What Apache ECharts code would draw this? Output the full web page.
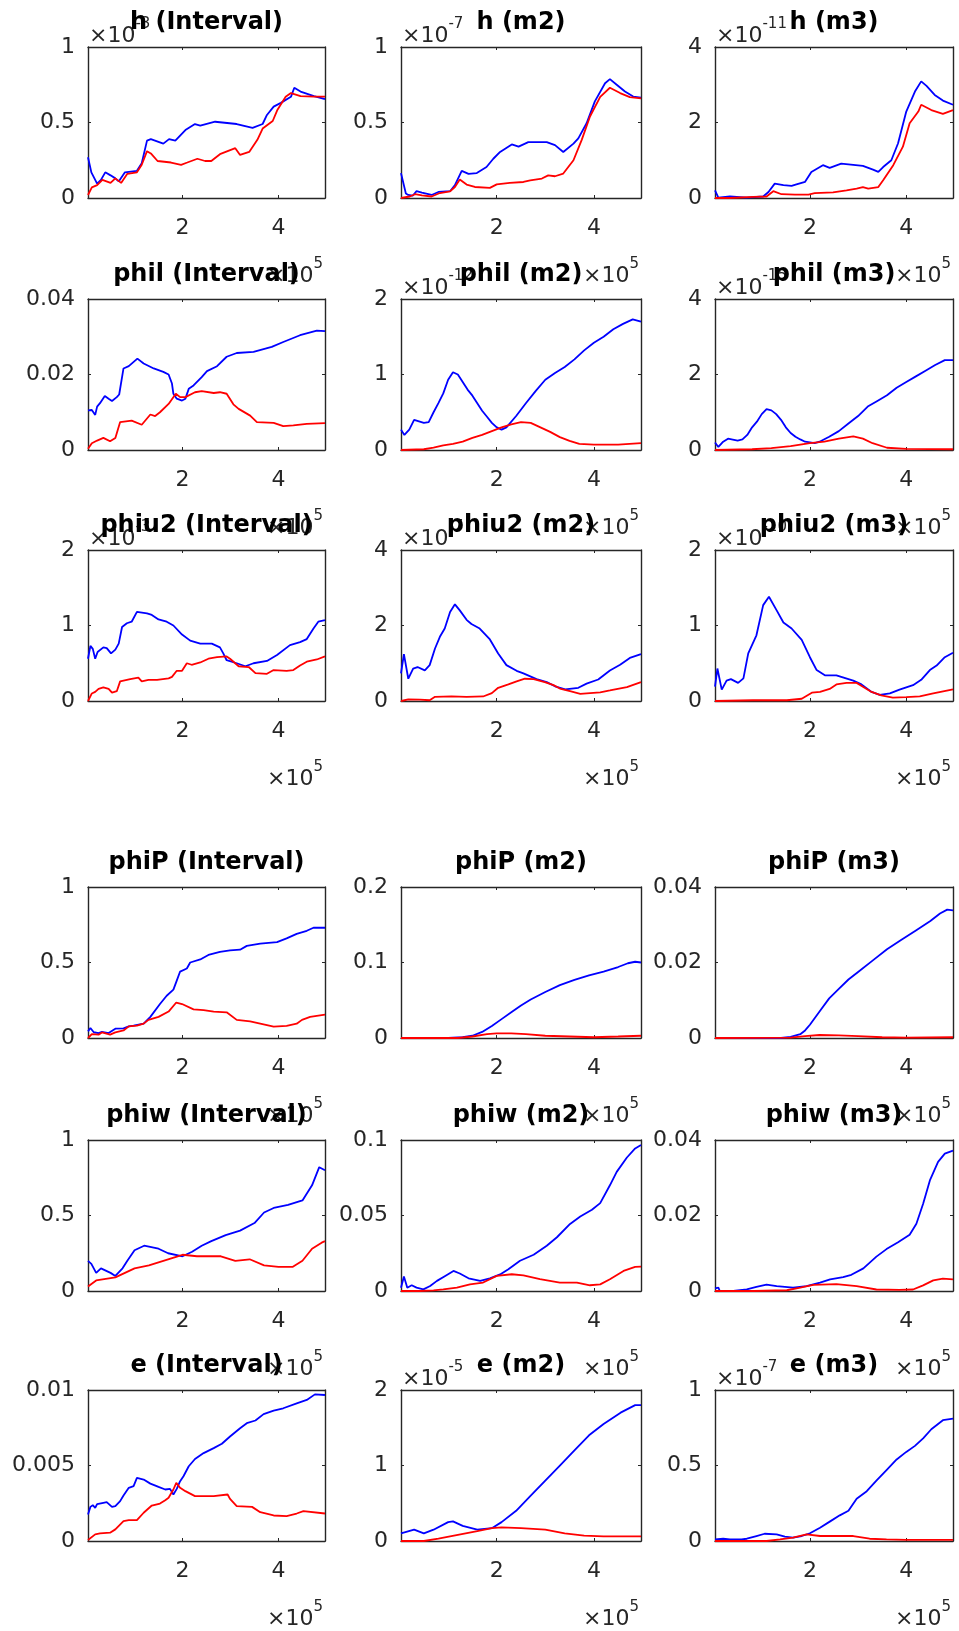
<!DOCTYPE html>
<html>
<head>
<meta charset="utf-8">
<script src="https://cdn.jsdelivr.net/npm/echarts@6/dist/echarts.min.js"></script>
<style>
  html, body { margin: 0; padding: 0; background: #ffffff; }
  #chart { width: 959px; height: 1631px; }
</style>
</head>
<body>
<div id="chart"></div>
<script>
// x positions are in units of 1e5 (shown with a "×10^5" multiplier),
// y values in units of each panel's multiplier.

const hIntervalBlue = [[0.03,0.27],[0.1,0.17],[0.22,0.095],[0.3,0.12],[0.39,0.17],[0.5,0.15],[0.6,0.13],[0.67,0.11],[0.8,0.17],[1.05,0.18],[1.15,0.23],[1.26,0.38],[1.34,0.39],[1.6,0.36],[1.72,0.39],[1.85,0.38],[2.06,0.45],[2.26,0.49],[2.37,0.48],[2.68,0.505],[3.13,0.49],[3.46,0.465],[3.67,0.49],[3.76,0.55],[3.9,0.605],[4.05,0.63],[4.26,0.67],[4.33,0.73],[4.46,0.705],[4.74,0.675],[4.97,0.655]];
const hIntervalRed = [[0.03,0.02],[0.11,0.07],[0.22,0.085],[0.33,0.12],[0.5,0.1],[0.6,0.13],[0.72,0.1],[0.85,0.16],[1.05,0.17],[1.15,0.22],[1.26,0.31],[1.34,0.295],[1.48,0.245],[1.76,0.235],[1.97,0.22],[2.1,0.235],[2.31,0.26],[2.47,0.245],[2.6,0.245],[2.78,0.29],[3.1,0.33],[3.2,0.285],[3.39,0.305],[3.56,0.385],[3.67,0.46],[3.88,0.51],[3.98,0.585],[4.15,0.67],[4.26,0.695],[4.46,0.675],[4.74,0.672],[4.97,0.672]];

const hM2Blue = [[0.03,0.165],[0.13,0.03],[0.18,0.02],[0.27,0.015],[0.35,0.045],[0.46,0.035],[0.66,0.02],[0.8,0.04],[1.04,0.045],[1.14,0.085],[1.28,0.18],[1.42,0.16],[1.59,0.165],[1.79,0.205],[1.93,0.26],[2.07,0.305],[2.31,0.355],[2.45,0.34],[2.65,0.37],[3.03,0.37],[3.2,0.35],[3.37,0.305],[3.58,0.36],[3.68,0.395],[3.85,0.495],[4.02,0.64],[4.23,0.76],[4.33,0.787],[4.47,0.75],[4.64,0.705],[4.81,0.672],[4.97,0.665]];
const hM2Red = [[0.03,0],[0.21,0.01],[0.32,0.025],[0.46,0.018],[0.66,0.01],[0.83,0.033],[1.04,0.044],[1.14,0.073],[1.24,0.122],[1.38,0.089],[1.55,0.073],[1.86,0.067],[2.0,0.09],[2.27,0.1],[2.55,0.106],[2.69,0.117],[2.93,0.129],[3.06,0.15],[3.2,0.144],[3.37,0.162],[3.58,0.25],[3.75,0.385],[3.92,0.54],[4.13,0.67],[4.33,0.73],[4.54,0.695],[4.74,0.668],[4.97,0.66]];

const hM3Blue = [[0.03,0.2],[0.1,0.01],[0.34,0.04],[0.69,0.01],[1.03,0.04],[1.14,0.16],[1.27,0.38],[1.45,0.34],[1.62,0.32],[1.72,0.36],[1.9,0.43],[2.03,0.69],[2.27,0.87],[2.41,0.8],[2.65,0.91],[3.1,0.85],[3.31,0.75],[3.42,0.69],[3.52,0.82],[3.69,1.0],[3.83,1.45],[4.0,2.29],[4.18,2.82],[4.31,3.09],[4.42,2.97],[4.59,2.73],[4.76,2.58],[4.97,2.47]];
const hM3Red = [[0.03,0],[0.34,0],[0.83,0.03],[1.1,0.04],[1.24,0.18],[1.41,0.1],[1.69,0.09],[1.97,0.09],[2.1,0.13],[2.48,0.15],[2.76,0.2],[2.97,0.25],[3.1,0.29],[3.21,0.25],[3.42,0.29],[3.52,0.47],[3.73,0.87],[3.93,1.36],[4.07,1.98],[4.25,2.29],[4.31,2.47],[4.52,2.33],[4.76,2.23],[4.97,2.33]];

const philIntervalBlue = [[0.03,0.0105],[0.11,0.0106],[0.18,0.0093],[0.22,0.0115],[0.28,0.0124],[0.38,0.0143],[0.46,0.0136],[0.53,0.013],[0.63,0.014],[0.68,0.0147],[0.77,0.0216],[0.88,0.0222],[1.06,0.0242],[1.19,0.0229],[1.4,0.0216],[1.6,0.0207],[1.71,0.02],[1.78,0.0176],[1.81,0.0149],[1.88,0.0136],[1.99,0.0131],[2.06,0.0136],[2.13,0.0162],[2.23,0.0171],[2.4,0.0193],[2.51,0.0209],[2.72,0.0222],[2.92,0.0247],[3.13,0.0257],[3.48,0.026],[3.86,0.0273],[4.1,0.0286],[4.45,0.0304],[4.8,0.0316],[4.97,0.0315]];
const philIntervalRed = [[0.03,0.0003],[0.11,0.0018],[0.22,0.0025],[0.35,0.0032],[0.49,0.0023],[0.6,0.0032],[0.7,0.0074],[0.94,0.0078],[1.15,0.0067],[1.33,0.0094],[1.43,0.009],[1.53,0.01],[1.71,0.0122],[1.86,0.0149],[1.95,0.014],[2.06,0.014],[2.26,0.0153],[2.4,0.0156],[2.65,0.0151],[2.78,0.0153],[2.92,0.0149],[3.06,0.0121],[3.17,0.0109],[3.41,0.0091],[3.55,0.0074],[3.9,0.0072],[4.1,0.0063],[4.31,0.0065],[4.59,0.0069],[4.97,0.0071]];

const philM2Blue = [[0.03,0.27],[0.1,0.2],[0.2,0.27],[0.3,0.4],[0.4,0.38],[0.5,0.36],[0.6,0.37],[0.7,0.5],[0.8,0.62],[0.9,0.75],[1.0,0.93],[1.1,1.03],[1.2,1.0],[1.3,0.9],[1.4,0.8],[1.5,0.72],[1.6,0.62],[1.7,0.52],[1.8,0.44],[1.9,0.36],[2.0,0.3],[2.1,0.27],[2.2,0.3],[2.4,0.45],[2.6,0.62],[2.8,0.78],[3.0,0.93],[3.2,1.02],[3.4,1.1],[3.6,1.2],[3.8,1.32],[4.0,1.42],[4.2,1.5],[4.4,1.6],[4.6,1.67],[4.8,1.73],[4.97,1.7]];
const philM2Red = [[0.03,0],[0.5,0.01],[0.7,0.03],[0.9,0.06],[1.1,0.08],[1.3,0.11],[1.5,0.16],[1.7,0.2],[1.9,0.25],[2.1,0.3],[2.3,0.34],[2.5,0.37],[2.7,0.36],[2.9,0.3],[3.1,0.24],[3.3,0.17],[3.5,0.12],[3.7,0.08],[4.0,0.07],[4.5,0.07],[4.97,0.09]];

const philM3Blue = [[0.03,0.2],[0.1,0.08],[0.2,0.22],[0.3,0.3],[0.5,0.25],[0.6,0.28],[0.7,0.4],[0.8,0.6],[0.9,0.75],[1.0,0.95],[1.1,1.08],[1.2,1.05],[1.3,0.95],[1.4,0.8],[1.5,0.6],[1.6,0.45],[1.7,0.35],[1.8,0.28],[1.9,0.22],[2.0,0.2],[2.1,0.18],[2.2,0.22],[2.4,0.35],[2.6,0.5],[2.8,0.7],[3.0,0.9],[3.2,1.15],[3.4,1.3],[3.6,1.45],[3.8,1.65],[4.0,1.8],[4.2,1.95],[4.4,2.1],[4.6,2.25],[4.8,2.38],[4.97,2.38]];
const philM3Red = [[0.03,0],[0.8,0.02],[1.2,0.05],[1.6,0.1],[2.0,0.18],[2.3,0.22],[2.6,0.3],[2.9,0.36],[3.1,0.3],[3.3,0.18],[3.6,0.06],[4.0,0.03],[4.97,0.02]];

const phiu2IntervalBlue = [[0.03,0.56],[0.08,0.73],[0.13,0.69],[0.18,0.56],[0.23,0.65],[0.35,0.71],[0.42,0.7],[0.51,0.63],[0.6,0.68],[0.67,0.76],[0.74,0.98],[0.84,1.03],[0.94,1.05],[1.05,1.18],[1.26,1.16],[1.36,1.14],[1.5,1.08],[1.67,1.05],[1.81,1.0],[1.99,0.88],[2.16,0.8],[2.37,0.76],[2.61,0.76],[2.78,0.71],[2.85,0.63],[2.92,0.54],[3.13,0.5],[3.31,0.46],[3.48,0.5],[3.76,0.53],[3.97,0.61],[4.24,0.74],[4.45,0.78],[4.59,0.82],[4.73,0.96],[4.83,1.05],[4.97,1.07]];
const phiu2IntervalRed = [[0.03,0],[0.11,0.1],[0.18,0.12],[0.25,0.16],[0.35,0.18],[0.46,0.16],[0.53,0.11],[0.63,0.13],[0.7,0.26],[0.91,0.29],[1.08,0.31],[1.15,0.26],[1.29,0.28],[1.47,0.28],[1.71,0.3],[1.78,0.32],[1.88,0.4],[1.99,0.4],[2.09,0.5],[2.19,0.48],[2.37,0.51],[2.54,0.56],[2.72,0.58],[2.92,0.59],[2.99,0.56],[3.17,0.46],[3.38,0.45],[3.52,0.37],[3.76,0.36],[3.9,0.41],[4.17,0.4],[4.31,0.41],[4.45,0.47],[4.59,0.52],[4.8,0.55],[4.97,0.59]];

const phiu2M2Blue = [[0.03,0.73],[0.09,1.24],[0.18,0.59],[0.28,0.86],[0.37,0.9],[0.52,0.81],[0.62,0.95],[0.73,1.39],[0.83,1.7],[0.93,1.92],[1.04,2.36],[1.14,2.56],[1.24,2.4],[1.38,2.15],[1.48,2.04],[1.65,1.92],[1.86,1.63],[2.03,1.26],[2.2,0.95],[2.41,0.8],[2.55,0.73],[2.82,0.58],[3.03,0.5],[3.2,0.39],[3.41,0.31],[3.68,0.35],[3.85,0.46],[4.09,0.57],[4.33,0.81],[4.54,0.96],[4.74,1.14],[4.97,1.24]];
const phiu2M2Red = [[0.03,0],[0.18,0.04],[0.42,0.035],[0.62,0.02],[0.73,0.11],[1.07,0.12],[1.38,0.11],[1.72,0.12],[1.9,0.21],[2.03,0.35],[2.24,0.44],[2.41,0.52],[2.58,0.59],[2.76,0.58],[2.99,0.5],[3.17,0.42],[3.3,0.33],[3.51,0.26],[3.72,0.19],[3.92,0.21],[4.13,0.23],[4.33,0.28],[4.68,0.37],[4.97,0.5]];

const phiu2M3Blue = [[0.03,0.19],[0.08,0.43],[0.17,0.15],[0.27,0.27],[0.36,0.29],[0.51,0.24],[0.62,0.3],[0.72,0.63],[0.89,0.87],[1.03,1.27],[1.15,1.38],[1.31,1.2],[1.45,1.04],[1.62,0.96],[1.83,0.81],[2.0,0.58],[2.14,0.41],[2.31,0.34],[2.55,0.34],[2.9,0.27],[3.07,0.22],[3.28,0.12],[3.45,0.08],[3.66,0.1],[3.86,0.15],[4.14,0.21],[4.31,0.28],[4.49,0.41],[4.63,0.47],[4.8,0.58],[4.97,0.64]];
const phiu2M3Red = [[0.03,0],[0.82,0.01],[1.52,0.01],[1.83,0.03],[2.04,0.11],[2.21,0.12],[2.41,0.16],[2.55,0.22],[2.76,0.24],[2.97,0.24],[3.1,0.19],[3.28,0.12],[3.48,0.075],[3.72,0.045],[4.0,0.05],[4.28,0.06],[4.56,0.1],[4.97,0.155]];

const phiPIntervalBlue = [[0.03,0.044],[0.08,0.066],[0.15,0.038],[0.25,0.033],[0.32,0.04],[0.46,0.033],[0.6,0.062],[0.77,0.064],[0.88,0.077],[0.98,0.082],[1.19,0.095],[1.33,0.14],[1.53,0.225],[1.67,0.28],[1.81,0.32],[1.88,0.38],[1.95,0.44],[2.09,0.46],[2.16,0.5],[2.37,0.52],[2.54,0.55],[2.78,0.57],[2.99,0.58],[3.2,0.585],[3.34,0.61],[3.62,0.625],[3.97,0.635],[4.17,0.66],[4.38,0.69],[4.59,0.71],[4.73,0.73],[4.97,0.73]];
const phiPIntervalRed = [[0.03,0],[0.11,0.026],[0.25,0.022],[0.32,0.037],[0.49,0.022],[0.6,0.037],[0.77,0.05],[0.88,0.077],[1.05,0.082],[1.19,0.095],[1.29,0.12],[1.5,0.14],[1.71,0.175],[1.87,0.235],[1.99,0.225],[2.23,0.19],[2.44,0.185],[2.65,0.175],[2.92,0.17],[3.13,0.12],[3.41,0.11],[3.69,0.09],[3.9,0.075],[4.17,0.08],[4.38,0.095],[4.49,0.12],[4.66,0.14],[4.97,0.155]];

const phiPM2Blue = [[0.03,0],[1.0,0],[1.3,0.001],[1.5,0.003],[1.7,0.008],[1.9,0.016],[2.1,0.025],[2.3,0.034],[2.5,0.043],[2.7,0.051],[3.0,0.061],[3.3,0.07],[3.6,0.077],[3.9,0.083],[4.2,0.088],[4.5,0.094],[4.7,0.099],[4.85,0.101],[4.97,0.1]];
const phiPM2Red = [[0.03,0],[1.2,0],[1.5,0.002],[1.8,0.005],[2.0,0.006],[2.3,0.006],[2.6,0.005],[3.0,0.003],[3.5,0.002],[4.0,0.001],[4.5,0.002],[4.97,0.003]];

const phiPM3Blue = [[0.03,0],[1.4,0],[1.6,0.0003],[1.8,0.001],[1.9,0.002],[2.0,0.0035],[2.2,0.007],[2.4,0.0105],[2.6,0.013],[2.8,0.0155],[3.0,0.0175],[3.3,0.0205],[3.6,0.0235],[3.9,0.026],[4.2,0.0285],[4.5,0.031],[4.7,0.033],[4.85,0.034],[4.97,0.0338]];
const phiPM3Red = [[0.03,0],[1.6,0.0001],[1.9,0.0005],[2.2,0.0008],[2.6,0.0007],[3.0,0.0005],[3.5,0.0002],[4.0,0.0001],[4.97,0.0002]];

const phiwIntervalBlue = [[0.03,0.2],[0.1,0.18],[0.2,0.12],[0.3,0.15],[0.5,0.12],[0.6,0.1],[0.75,0.15],[0.85,0.2],[1.0,0.27],[1.2,0.3],[1.5,0.28],[1.7,0.25],[2.0,0.23],[2.2,0.26],[2.4,0.3],[2.6,0.33],[2.9,0.37],[3.2,0.4],[3.5,0.45],[3.7,0.52],[3.9,0.55],[4.2,0.57],[4.5,0.6],[4.7,0.7],[4.85,0.82],[4.97,0.8]];
const phiwIntervalRed = [[0.03,0.03],[0.2,0.07],[0.4,0.08],[0.6,0.09],[0.8,0.12],[1.0,0.15],[1.3,0.17],[1.6,0.2],[1.9,0.23],[2.0,0.24],[2.3,0.23],[2.8,0.23],[3.1,0.2],[3.4,0.21],[3.7,0.17],[4.0,0.16],[4.3,0.16],[4.5,0.2],[4.7,0.28],[4.9,0.32],[4.97,0.33]];

const phiwM2Blue = [[0.03,0.0022],[0.09,0.0096],[0.16,0.0022],[0.25,0.0038],[0.35,0.0022],[0.49,0.0011],[0.63,0.0033],[0.77,0.0067],[0.94,0.01],[1.11,0.0133],[1.24,0.0116],[1.42,0.0084],[1.66,0.0067],[1.86,0.0084],[2.07,0.011],[2.24,0.0144],[2.48,0.02],[2.76,0.024],[3.03,0.03],[3.24,0.0356],[3.51,0.0444],[3.72,0.0493],[3.96,0.0538],[4.13,0.0582],[4.33,0.07],[4.47,0.0789],[4.68,0.0884],[4.85,0.0944],[4.97,0.0967]];
const phiwM2Red = [[0.03,0],[0.42,0],[0.7,0.0004],[0.9,0.0011],[1.18,0.0022],[1.45,0.0044],[1.72,0.0056],[2.0,0.01],[2.31,0.0111],[2.55,0.0104],[2.89,0.0078],[3.3,0.0056],[3.65,0.0056],[3.92,0.0038],[4.13,0.0044],[4.33,0.0078],[4.61,0.0133],[4.85,0.016],[4.97,0.0162]];

const phiwM3Blue = [[0.03,0.0007],[0.1,0.0009],[0.13,0],[0.41,0],[0.69,0.0004],[0.89,0.0011],[1.1,0.0017],[1.31,0.0013],[1.65,0.0009],[1.93,0.0013],[2.21,0.0022],[2.42,0.0031],[2.69,0.0037],[2.86,0.0043],[3.11,0.006],[3.38,0.0091],[3.59,0.0111],[3.83,0.0129],[4.07,0.0149],[4.21,0.0178],[4.35,0.0231],[4.49,0.0293],[4.66,0.0342],[4.8,0.0364],[4.97,0.0372]];
const phiwM3Red = [[0.03,0],[0.83,0],[1.52,0.0002],[1.8,0.0009],[2.07,0.0016],[2.55,0.0018],[2.97,0.0013],[3.38,0.0004],[3.86,0.0003],[4.14,0.0004],[4.35,0.0015],[4.56,0.0028],[4.76,0.0033],[4.97,0.0031]];

const eIntervalBlue = [[0.03,0.00176],[0.08,0.00226],[0.13,0.00237],[0.18,0.0022],[0.22,0.00244],[0.35,0.00253],[0.42,0.00257],[0.53,0.00226],[0.6,0.00231],[0.7,0.00264],[0.77,0.00301],[0.88,0.00352],[0.98,0.00363],[1.05,0.00418],[1.19,0.00407],[1.33,0.0038],[1.5,0.00358],[1.64,0.00341],[1.74,0.00345],[1.81,0.00308],[1.88,0.00345],[1.95,0.00396],[2.02,0.00429],[2.13,0.00495],[2.26,0.00543],[2.44,0.00582],[2.65,0.00615],[2.82,0.00644],[2.99,0.00692],[3.2,0.00747],[3.34,0.0078],[3.52,0.00798],[3.69,0.0084],[3.9,0.00864],[4.1,0.00879],[4.38,0.00912],[4.59,0.00934],[4.76,0.00971],[4.97,0.00967]];
const eIntervalRed = [[0.03,0.00007],[0.18,0.00044],[0.28,0.0005],[0.49,0.00055],[0.6,0.00077],[0.77,0.00132],[0.88,0.00138],[1.05,0.00138],[1.19,0.00187],[1.36,0.00235],[1.53,0.00248],[1.64,0.0027],[1.71,0.00286],[1.81,0.00341],[1.87,0.00385],[1.95,0.00352],[2.06,0.0033],[2.26,0.00297],[2.65,0.00297],[2.94,0.00308],[2.99,0.00279],[3.13,0.00231],[3.45,0.00226],[3.62,0.00191],[3.9,0.00169],[4.17,0.00165],[4.38,0.00182],[4.52,0.00198],[4.97,0.00182]];

const eM2Blue = [[0.03,0.1],[0.3,0.15],[0.5,0.1],[0.7,0.15],[1.0,0.25],[1.1,0.26],[1.3,0.2],[1.6,0.15],[1.9,0.17],[2.1,0.25],[2.4,0.4],[2.7,0.6],[3.0,0.8],[3.3,1.0],[3.6,1.2],[3.9,1.4],[4.2,1.55],[4.55,1.7],[4.85,1.8],[4.97,1.8]];
const eM2Red = [[0.03,0],[0.5,0],[0.8,0.03],[1.2,0.08],[1.6,0.13],[1.9,0.17],[2.1,0.18],[2.5,0.17],[3.0,0.15],[3.4,0.1],[3.8,0.07],[4.2,0.06],[4.97,0.06]];

const eM3Blue = [[0.03,0.011],[0.2,0.015],[0.34,0.011],[0.58,0.011],[0.69,0.015],[0.89,0.033],[1.06,0.048],[1.31,0.044],[1.48,0.029],[1.65,0.022],[1.83,0.033],[2.0,0.051],[2.21,0.088],[2.42,0.13],[2.62,0.17],[2.8,0.2],[2.97,0.28],[3.18,0.33],[3.38,0.4],[3.59,0.47],[3.8,0.54],[4.0,0.59],[4.18,0.63],[4.35,0.68],[4.52,0.74],[4.76,0.8],[4.97,0.81]];
const eM3Red = [[0.03,0],[1.1,0],[1.38,0.011],[1.65,0.022],[1.93,0.044],[2.21,0.033],[2.62,0.033],[2.9,0.033],[3.24,0.015],[3.59,0.011],[4.0,0.007],[4.97,0.007]];

// Panel descriptions, row by row
const panelTitles = [
  'h (Interval)', 'h (m2)', 'h (m3)',
  'phil (Interval)', 'phil (m2)', 'phil (m3)',
  'phiu2 (Interval)', 'phiu2 (m2)', 'phiu2 (m3)',
  'phiP (Interval)', 'phiP (m2)', 'phiP (m3)',
  'phiw (Interval)', 'phiw (m2)', 'phiw (m3)',
  'e (Interval)', 'e (m2)', 'e (m3)'
];
const panelYMax = [1, 1, 4, 0.04, 2, 4, 2, 4, 2, 1, 0.2, 0.04, 1, 0.1, 0.04, 0.01, 2, 1];
const panelYExponent = ['-3', '-7', '-11', '', '-12', '-15', '-3', '-7', '-10', '', '', '', '', '', '', '', '-5', '-7'];
const panelBlue = [hIntervalBlue, hM2Blue, hM3Blue, philIntervalBlue, philM2Blue, philM3Blue,
  phiu2IntervalBlue, phiu2M2Blue, phiu2M3Blue, phiPIntervalBlue, phiPM2Blue, phiPM3Blue,
  phiwIntervalBlue, phiwM2Blue, phiwM3Blue, eIntervalBlue, eM2Blue, eM3Blue];
const panelRed = [hIntervalRed, hM2Red, hM3Red, philIntervalRed, philM2Red, philM3Red,
  phiu2IntervalRed, phiu2M2Red, phiu2M3Red, phiPIntervalRed, phiPM2Red, phiPM3Red,
  phiwIntervalRed, phiwM2Red, phiwM3Red, eIntervalRed, eM2Red, eM3Red];
const xTickValues = [2, 4];
const xExponent = '5';
const xRange = [0.03, 4.97];

// Layout of the 6 x 3 grid of axes (pixels)
const colLeft = [88, 401, 715];
const colWidth = [237, 240, 238];
const rowTop = [47, 299, 550, 887, 1140, 1390];
const plotHeight = 151;

const AX = '#262626';
const FONT = 'DejaVu Sans';
const fmt = v => String(parseFloat(Number(v).toPrecision(6)));

const grids = [], xAxes = [], yAxes = [], series = [], graphics = [];

panelTitles.forEach((title, i) => {
  const r = Math.floor(i / 3), c = i % 3;
  const left = colLeft[c], top = rowTop[r], w = colWidth[c], h = plotHeight;
  const ymax = panelYMax[i];
  grids.push({ left, top, width: w, height: h, containLabel: false });

  const line = { show: true, onZero: false, lineStyle: { color: AX, width: 1.4 } };
  const xTick = { show: true, inside: true, length: 3, customValues: xTickValues, lineStyle: { color: AX, width: 1 } };
  const yTick = { show: true, inside: true, length: 3, lineStyle: { color: AX, width: 1 } };

  xAxes.push({
    gridIndex: i, type: 'value', position: 'bottom', min: xRange[0], max: xRange[1],
    axisLine: line, axisTick: xTick, splitLine: { show: false },
    axisLabel: { show: true, customValues: xTickValues, formatter: fmt, color: AX, fontFamily: FONT,
      fontSize: 22, margin: 30, verticalAlign: 'middle' }
  });
  xAxes.push({
    gridIndex: i, type: 'value', position: 'top', min: xRange[0], max: xRange[1],
    axisLine: line, axisTick: xTick, splitLine: { show: false }, axisLabel: { show: false }
  });
  yAxes.push({
    gridIndex: i, type: 'value', position: 'left', min: 0, max: ymax, interval: ymax / 2,
    axisLine: line, axisTick: yTick, splitLine: { show: false },
    axisLabel: { show: true, formatter: fmt, color: AX, fontFamily: FONT, fontSize: 22, margin: 13 }
  });
  yAxes.push({
    gridIndex: i, type: 'value', position: 'right', min: 0, max: ymax, interval: ymax / 2,
    axisLine: line, axisTick: yTick, splitLine: { show: false }, axisLabel: { show: false }
  });

  series.push({
    type: 'line', name: title + ' blue', xAxisIndex: 2 * i, yAxisIndex: 2 * i,
    data: panelBlue[i], showSymbol: false, symbol: 'none', z: 3,
    lineStyle: { color: '#0000ff', width: 1.8 }, itemStyle: { color: '#0000ff' }
  });
  series.push({
    type: 'line', name: title + ' red', xAxisIndex: 2 * i, yAxisIndex: 2 * i,
    data: panelRed[i], showSymbol: false, symbol: 'none', z: 4,
    lineStyle: { color: '#ff0000', width: 1.8 }, itemStyle: { color: '#ff0000' }
  });

  // y multiplier above the top-left corner
  if (panelYExponent[i]) {
    graphics.push({
      type: 'text', left: left + 1, top: top - 30, z: 10,
      style: {
        text: '{b|×10}{s|' + panelYExponent[i] + '}',
        rich: {
          b: { fontFamily: FONT, fontSize: 22, fill: AX, lineHeight: 30, verticalAlign: 'bottom' },
          s: { fontFamily: FONT, fontSize: 15, fill: AX, lineHeight: 14, verticalAlign: 'top' }
        }
      }
    });
  }
  // x multiplier below the bottom-right corner
  graphics.push({
    type: 'text', right: 959 - (left + w) + 2, top: top + h + 59, z: 10,
    style: {
      text: '{b|×10}{s|' + xExponent + '}',
      rich: {
        b: { fontFamily: FONT, fontSize: 22, fill: AX, lineHeight: 30, verticalAlign: 'bottom' },
        s: { fontFamily: FONT, fontSize: 15, fill: AX, lineHeight: 14, verticalAlign: 'top' }
      }
    }
  });
  // panel title
  graphics.push({
    type: 'text', z: 20,
    style: {
      text: title, x: left + w / 2, y: top - 24, align: 'center', verticalAlign: 'middle',
      fontFamily: FONT, fontWeight: 'bold', fontSize: 24, fill: '#000000'
    }
  });
});

const chart = echarts.init(document.getElementById('chart'), null, { renderer: 'canvas' });
chart.setOption({
  animation: false,
  backgroundColor: '#ffffff',
  grid: grids,
  xAxis: xAxes,
  yAxis: yAxes,
  series: series,
  graphic: graphics
});
</script>
</body>
</html>
